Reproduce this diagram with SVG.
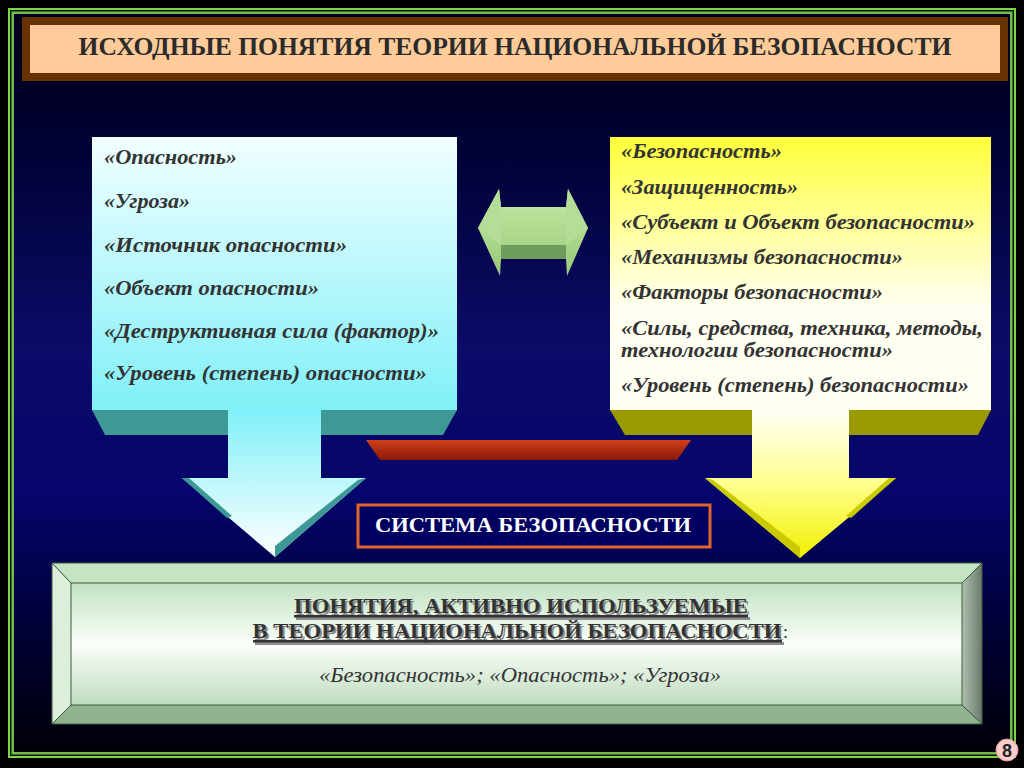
<svg xmlns="http://www.w3.org/2000/svg" width="1024" height="768" viewBox="0 0 1024 768">
  <defs>
    <linearGradient id="bg" x1="0" y1="15" x2="0" y2="752" gradientUnits="userSpaceOnUse">
      <stop offset="0" stop-color="#000018"/>
      <stop offset="0.15" stop-color="#000030"/>
      <stop offset="0.45" stop-color="#0b0b68"/>
      <stop offset="0.65" stop-color="#05056c"/>
      <stop offset="0.82" stop-color="#00003a"/>
      <stop offset="1" stop-color="#000008"/>
    </linearGradient>
    <linearGradient id="cyanG" x1="0" y1="137" x2="0" y2="557" gradientUnits="userSpaceOnUse">
      <stop offset="0" stop-color="#f2ffff"/>
      <stop offset="0.65" stop-color="#80f0f8"/>
      <stop offset="1" stop-color="#ffffff"/>
    </linearGradient>
    <linearGradient id="yelG" x1="0" y1="137" x2="0" y2="558" gradientUnits="userSpaceOnUse">
      <stop offset="0" stop-color="#ffff3a"/>
      <stop offset="0.4" stop-color="#fffff0"/>
      <stop offset="0.65" stop-color="#fffff4"/>
      <stop offset="0.82" stop-color="#ffff90"/>
      <stop offset="1" stop-color="#f2f000"/>
    </linearGradient>
    <linearGradient id="redG" x1="0" y1="440" x2="0" y2="460" gradientUnits="userSpaceOnUse">
      <stop offset="0" stop-color="#d04018"/>
      <stop offset="1" stop-color="#8a1808"/>
    </linearGradient>
    <linearGradient id="greenArrow" x1="0" y1="189" x2="0" y2="277" gradientUnits="userSpaceOnUse">
      <stop offset="0" stop-color="#c4eaa4"/>
      <stop offset="1" stop-color="#98c878"/>
    </linearGradient>
    <linearGradient id="faceG" x1="0" y1="583" x2="0" y2="705" gradientUnits="userSpaceOnUse">
      <stop offset="0" stop-color="#c2e2c2"/>
      <stop offset="0.5" stop-color="#fafffa"/>
      <stop offset="1" stop-color="#c0dcc0"/>
    </linearGradient>
    <linearGradient id="rightBevel" x1="962" y1="0" x2="982" y2="0" gradientUnits="userSpaceOnUse">
      <stop offset="0" stop-color="#b0c0b0"/>
      <stop offset="1" stop-color="#6a7a6a"/>
    </linearGradient>
    <style>
      .serif { font-family: "Liberation Serif", "Times New Roman", serif; }
      .item { font-family: "Liberation Serif", "Times New Roman", serif; font-size: 21px; font-weight: bold; font-style: italic; fill: #333333; }
      .ritem { font-family: "Liberation Serif", "Times New Roman", serif; font-size: 20px; font-weight: bold; font-style: italic; fill: #333333; }
      .teal { fill: #3d9896; }
      .olive { fill: #999900; }
      .head { font-family: "Liberation Serif", "Times New Roman", serif; font-size: 21px; font-weight: bold; }
    </style>
  </defs>

  <!-- background -->
  <rect x="0" y="0" width="1024" height="768" fill="#000000"/>
  <rect x="14" y="14" width="996" height="738" fill="url(#bg)"/>
  <!-- green frame -->
  <g fill="none">
    <rect x="9" y="9" width="1006" height="748" stroke="#7fd44f" stroke-width="2"/>
    <rect x="11.5" y="11.5" width="1001" height="743" stroke="#2e7a22" stroke-width="1.2"/>
    <rect x="13" y="13" width="998" height="740" stroke="#96e264" stroke-width="1.6"/>
  </g>

  <!-- title -->
  <g id="title">
    <rect x="22" y="17" width="986" height="64" fill="#663300"/>
    <rect x="30" y="25" width="970" height="48" fill="#ffcc99"/>
    <text class="serif" x="515" y="55" font-size="26" font-weight="bold" fill="#2b2b2b" text-anchor="middle" textLength="873" lengthAdjust="spacingAndGlyphs">ИСХОДНЫЕ ПОНЯТИЯ ТЕОРИИ НАЦИОНАЛЬНОЙ БЕЗОПАСНОСТИ</text>
  </g>

  <!-- left box -->
  <g id="left-box">
    <path d="M92,137 H457 V410 H321 V478 H366 L275,557 L182,478 H228 V410 H92 Z" fill="url(#cyanG)"/>
    <polygon class="teal" points="92,410 228,410 228,435 105,435"/>
    <polygon class="teal" points="321,410 457,410 443,435 321,435"/>
    <polygon class="teal" points="366,478 275,557 275,546 358,480"/>
    <polygon class="teal" points="182,478 189,478 232,516 227,518"/>
    <text class="item" x="104" y="164" textLength="133" lengthAdjust="spacingAndGlyphs">«Опасность»</text>
    <text class="item" x="104" y="208" textLength="86" lengthAdjust="spacingAndGlyphs">«Угроза»</text>
    <text class="item" x="104" y="252" textLength="243" lengthAdjust="spacingAndGlyphs">«Источник опасности»</text>
    <text class="item" x="104" y="295" textLength="215" lengthAdjust="spacingAndGlyphs">«Объект опасности»</text>
    <text class="item" x="104" y="338" textLength="335" lengthAdjust="spacingAndGlyphs">«Деструктивная сила (фактор)»</text>
    <text class="item" x="104" y="380" textLength="323" lengthAdjust="spacingAndGlyphs">«Уровень (степень) опасности»</text>
  </g>

  <!-- right box -->
  <g id="right-box">
    <path d="M610,137 H991 V410 H849 V478 H896 L800,558 L705,478 H752 V410 H610 Z" fill="url(#yelG)"/>
    <polygon class="olive" points="610,410 752,410 752,435 625,435"/>
    <polygon class="olive" points="849,410 991,410 978,435 849,435"/>
    <polygon fill="#caca00" points="705,478 800,558 800,547 713,480"/>
    <polygon fill="#caca00" points="896,478 889,478 846,516 851,518"/>
    <text class="ritem" x="621" y="158" textLength="161" lengthAdjust="spacingAndGlyphs">«Безопасность»</text>
    <text class="ritem" x="621" y="194" textLength="177" lengthAdjust="spacingAndGlyphs">«Защищенность»</text>
    <text class="ritem" x="621" y="229" textLength="354" lengthAdjust="spacingAndGlyphs">«Субъект и Объект безопасности»</text>
    <text class="ritem" x="621" y="264" textLength="282" lengthAdjust="spacingAndGlyphs">«Механизмы безопасности»</text>
    <text class="ritem" x="621" y="299" textLength="262" lengthAdjust="spacingAndGlyphs">«Факторы безопасности»</text>
    <text class="ritem" x="621" y="335" textLength="362" lengthAdjust="spacingAndGlyphs">«Силы, средства, техника, методы,</text>
    <text class="ritem" x="621" y="357" textLength="272" lengthAdjust="spacingAndGlyphs">технологии безопасности»</text>
    <text class="ritem" x="621" y="392" textLength="348" lengthAdjust="spacingAndGlyphs">«Уровень (степень) безопасности»</text>
  </g>

  <!-- connectors -->
  <g id="connectors">
    <g id="double-arrow">
      <polygon fill="url(#greenArrow)" points="478,228 499,189 501,207 566,207 568,189 588,228 567,276 566,259 501,259 500,276"/>
      <rect x="501" y="245" width="65" height="14" fill="#6e9c5c"/>
      <polygon fill="#b4de98" points="478,228 499,189 501,207 501,245"/>
      <polygon fill="#b4de98" points="588,228 568,189 566,207 566,245"/>
    </g>
    <polygon id="red-bar" fill="url(#redG)" points="366,440 691,440 677,460 380,460"/>
  </g>

  <!-- system box -->
  <g id="system">
    <rect x="358" y="505" width="352" height="42" fill="#000060" stroke="#e0642e" stroke-width="3"/>
    <text class="serif" x="533" y="532" font-size="22" font-weight="bold" fill="#ffffff" text-anchor="middle" textLength="316" lengthAdjust="spacingAndGlyphs">СИСТЕМА БЕЗОПАСНОСТИ</text>
  </g>

  <!-- bottom panel -->
  <g id="bottom-panel">
    <polygon fill="#c4e4c4" points="52,563 982,563 962,583 71,583"/>
    <polygon fill="#dcefdc" points="52,563 71,583 71,705 52,724"/>
    <polygon fill="url(#rightBevel)" points="982,563 982,724 962,705 962,583"/>
    <polygon fill="#8fb48f" points="52,724 71,705 962,705 982,724"/>
    <rect x="71" y="583" width="891" height="122" fill="url(#faceG)"/>
    <g fill="none" stroke="#3d5a3d" stroke-width="1">
      <rect x="52" y="563" width="930" height="161"/>
      <rect x="71" y="583" width="891" height="122"/>
      <line x1="52" y1="563" x2="71" y2="583"/>
      <line x1="982" y1="563" x2="962" y2="583"/>
      <line x1="52" y1="724" x2="71" y2="705"/>
      <line x1="982" y1="724" x2="962" y2="705"/>
    </g>
    <!-- shadows -->
    <g fill="#8c8c8c">
      <text class="head" x="523" y="615" text-anchor="middle" textLength="454" lengthAdjust="spacingAndGlyphs">ПОНЯТИЯ, АКТИВНО ИСПОЛЬЗУЕМЫЕ</text>
      <text class="head" x="519" y="640" text-anchor="middle" textLength="529" lengthAdjust="spacingAndGlyphs">В ТЕОРИИ НАЦИОНАЛЬНОЙ БЕЗОПАСНОСТИ</text>
      <rect x="296" y="617" width="454" height="3"/>
      <rect x="255" y="642" width="529" height="3"/>
    </g>
    <g fill="#333333">
      <text class="head" x="521" y="613" text-anchor="middle" textLength="454" lengthAdjust="spacingAndGlyphs">ПОНЯТИЯ, АКТИВНО ИСПОЛЬЗУЕМЫЕ</text>
      <text class="head" x="517" y="638" text-anchor="middle" textLength="529" lengthAdjust="spacingAndGlyphs">В ТЕОРИИ НАЦИОНАЛЬНОЙ БЕЗОПАСНОСТИ</text>
      <rect x="294" y="615" width="454" height="2.5"/>
      <rect x="253" y="640" width="529" height="2.5"/>
      <text class="serif" x="783" y="638" font-size="18">:</text>
      <text class="serif" x="520" y="682" font-size="21" font-style="italic" text-anchor="middle" textLength="402" lengthAdjust="spacingAndGlyphs">«Безопасность»; «Опасность»; «Угроза»</text>
    </g>
  </g>

  <!-- page number -->
  <g id="page-number">
    <circle cx="1007" cy="750" r="11" fill="#ffcccc" stroke="#e89a9a" stroke-width="1"/>
    <text x="1007" y="757" font-family="Liberation Sans, Arial, sans-serif" font-size="18" font-weight="bold" fill="#222222" text-anchor="middle">8</text>
  </g>
</svg>
